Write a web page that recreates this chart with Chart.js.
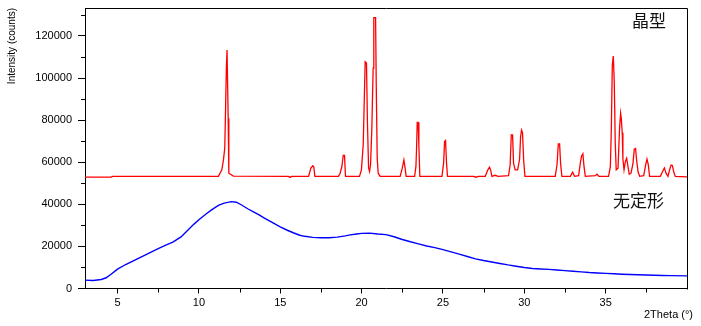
<!DOCTYPE html>
<html>
<head>
<meta charset="utf-8">
<script src="https://cdn.jsdelivr.net/npm/chart.js@4"></script>
<style>
    html, body { margin: 0; padding: 0; background: #fff; }
    #wrap { width: 701px; height: 326px; position: relative; }
</style>
</head>
<body>
<div id="wrap"><canvas id="xrd"></canvas></div>
<script>
// x axis: 2Theta (degrees), y axis: counts
const xTicks = [5, 10, 15, 20, 25, 30, 35];
const yTicks = [0, 20000, 40000, 60000, 80000, 100000, 120000];

// crystalline form (red), offset up the y axis in the original plot
const crystalTheta = [
    3.0, 4.6, 4.7, 11.2, 11.41, 11.51, 11.59, 11.63, 11.69, 11.73, 11.80, 11.84, 12.12,
    15.5, 15.6, 15.7, 16.74, 16.88, 17.0, 17.06, 17.13,
    18.58, 18.68, 18.79, 18.87, 18.95, 19.01,
    19.87, 19.99, 20.1, 20.16, 20.22, 20.3, 20.36, 20.43, 20.49, 20.55, 20.63, 20.71, 20.75, 20.86, 20.9, 20.96, 21.02, 21.14,
    22.37, 22.5, 22.6, 22.66, 22.74,
    23.26, 23.34, 23.38, 23.42, 23.48, 23.52, 23.58,
    24.94, 25.04, 25.1, 25.16, 25.22, 25.28,
    26.9, 27.0, 27.2, 27.6, 27.76, 27.86, 27.93, 28.01, 28.2, 28.4,
    29.03, 29.13, 29.2, 29.28, 29.34, 29.44, 29.59, 29.71, 29.77, 29.83, 29.89, 29.96, 30.04,
    31.9, 32.01, 32.09, 32.17, 32.23, 32.31,
    32.83, 32.97, 33.09,
    33.34, 33.44, 33.52, 33.6, 33.67, 33.75,
    34.36, 34.47, 34.59,
    35.18, 35.29, 35.35, 35.41, 35.47, 35.53, 35.59, 35.65, 35.76, 35.86, 35.92, 35.96, 36.02, 36.06,
    36.13, 36.21, 36.29, 36.37, 36.45, 36.56, 36.68, 36.76, 36.84, 36.9, 36.99, 37.09,
    37.34, 37.46, 37.54, 37.62, 37.7,
    38.36, 38.5, 38.61, 38.71, 38.83, 38.93, 39.02, 39.1, 39.18, 39.28, 40.0
];
const crystalCounts = [
    52900, 52900, 53300, 53300, 56400, 61100, 66700, 81700, 105400, 113300, 80900, 54800, 53400,
    53300, 52800, 53300, 53300, 57200, 58300, 57800, 53300,
    53300, 54800, 58000, 63200, 63200, 53300,
    53300, 56400, 68300, 88100, 107700, 107100, 78600, 57200, 55600, 58800, 76200, 104700, 128700, 128700, 96800, 61900, 54800, 53300,
    53300, 57200, 61100, 58000, 53300,
    53300, 58000, 67000, 78900, 78900, 68000, 53300,
    53300, 59600, 69800, 70300, 59600, 53300,
    53300, 52900, 53300, 53300, 56400, 57700, 56400, 53300, 53800, 53300,
    53600, 58700, 73000, 73000, 59500, 56400, 56400, 61400, 71900, 75300, 74100, 61100, 53300,
    53300, 58700, 68700, 68700, 59500, 53300,
    53300, 55300, 53300,
    53600, 59500, 63000, 64000, 58000, 53300,
    53600, 54300, 53300,
    53300, 58000, 76200, 106200, 110500, 98300, 69000, 56400, 57200, 76900, 83300, 80900, 74000, 61500,
    56400, 60300, 61900, 58000, 54300, 54800, 59500, 66200, 66500, 61200, 55600, 53300,
    53600, 58700, 61500, 58900, 53300,
    53300, 55600, 57300, 54800, 53300, 56400, 58700, 58500, 55600, 53300, 53000
];

// amorphous form (blue)
const amorphTheta = [
    3.0, 3.5, 4.0, 4.3, 4.6, 5.0, 5.5, 6.0, 6.5, 7.0, 7.5, 8.0, 8.4, 8.9, 9.3, 9.7, 10.0, 10.4, 10.8, 11.2,
    11.55, 12.0, 12.3, 12.6, 13.0, 13.3, 13.7, 14.0, 14.5, 15.0, 15.4, 15.8, 16.2, 16.5, 17.0, 17.5, 18.0,
    18.5, 19.0, 19.3, 19.7, 20.0, 20.5, 21.0, 21.5, 22.0, 22.5, 23.0, 23.5, 24.0, 24.5, 25.0, 25.5, 26.0,
    26.5, 27.0, 27.5, 28.0, 28.5, 29.0, 29.5, 30.0, 30.5, 31.0, 31.5, 32.0, 32.5, 33.0, 33.5, 34.0, 34.5,
    35.0, 35.5, 36.0, 36.5, 37.0, 37.5, 38.0, 38.5, 39.0, 40.0
];
const amorphCounts = [
    4000, 3800, 4300, 5100, 6800, 9200, 11400, 13300, 15200, 17100, 19000, 20700, 22000, 24500, 27600, 30600, 32700, 35200, 37500, 39500,
    40600, 41300, 41000, 39800, 37900, 36700, 35000, 33600, 31400, 29300, 27800, 26500, 25300, 24800, 24300, 24100, 24100,
    24400, 25000, 25500, 25900, 26200, 26300, 25900, 25600, 24600, 23300, 22200, 21200, 20200, 19400, 18500, 17400, 16300,
    15200, 14100, 13300, 12600, 11900, 11200, 10600, 10000, 9500, 9300, 9100, 8800, 8500, 8200, 7900, 7600, 7400,
    7200, 7000, 6800, 6650, 6500, 6400, 6300, 6200, 6100, 6000
];

const toPoints = (xs, ys) => xs.map((x, i) => ({ x: x, y: ys[i] }));

// box, minor ticks and the free text labels
const framePlugin = {
    id: 'frame',
    afterDraw(chart) {
        const ctx = chart.ctx;
        const a = chart.chartArea;
        const xs = chart.scales.x;
        const ys = chart.scales.y;
        ctx.save();
        ctx.strokeStyle = '#000';
        ctx.lineWidth = 1;
        ctx.beginPath();
        ctx.moveTo(Math.round(a.left) + 0.5, Math.round(a.top) + 0.5);
        ctx.lineTo(Math.round(a.right) + 0.5, Math.round(a.top) + 0.5);
        ctx.lineTo(Math.round(a.right) + 0.5, Math.round(a.bottom) + 0.5);
        // minor ticks
        for (let v = 7.5; v < 40; v += 5) {
            const px = Math.round(xs.getPixelForValue(v)) + 0.5;
            ctx.moveTo(px, a.bottom);
            ctx.lineTo(px, a.bottom + 4);
        }
        for (let v = 10000; v < 133000; v += 20000) {
            const py = Math.round(ys.getPixelForValue(v)) + 0.5;
            ctx.moveTo(a.left - 4, py);
            ctx.lineTo(a.left, py);
        }
        ctx.stroke();

        ctx.fillStyle = '#000';
        ctx.font = '10px "Liberation Sans", Arial, sans-serif';
        ctx.save();
        ctx.translate(12, 8);
        ctx.rotate(-Math.PI / 2);
        ctx.textAlign = 'right';
        ctx.textBaseline = 'middle';
        ctx.fillText('Intensity (counts)', 0, 0);
        ctx.restore();

        ctx.font = '11px "Liberation Sans", Arial, sans-serif';
        ctx.textAlign = 'left';
        ctx.textBaseline = 'middle';
        ctx.fillText('2Theta (°)', 644, 315);

        ctx.fillStyle = '#111';
        ctx.font = '17px "Noto Sans CJK SC", sans-serif';
        ctx.fillText('晶型', 632, 21);
        ctx.fillText('无定形', 613, 201);
        ctx.restore();
    }
};

new Chart(document.getElementById('xrd'), {
    type: 'line',
    data: {
        datasets: [
            {
                label: '晶型',
                data: toPoints(crystalTheta, crystalCounts),
                borderColor: '#ff0000',
                borderWidth: 1.3,
                pointRadius: 0,
                tension: 0
            },
            {
                label: '无定形',
                data: toPoints(amorphTheta, amorphCounts),
                borderColor: '#0000ff',
                borderWidth: 1.4,
                pointRadius: 0,
                tension: 0
            }
        ]
    },
    options: {
        responsive: true,
        maintainAspectRatio: false,
        animation: false,
        devicePixelRatio: 1,
        layout: { padding: { top: 8, right: 14, left: 0, bottom: 0 } },
        plugins: {
            legend: { display: false },
            tooltip: { enabled: false }
        },
        scales: {
            x: {
                type: 'linear',
                min: 3,
                max: 40,
                afterBuildTicks: s => { s.ticks = xTicks.map(v => ({ value: v })); },
                afterFit: s => { s.height = 37.5; s.paddingLeft = 0; s.paddingRight = 0; },
                grid: { drawOnChartArea: false, tickLength: 5, color: '#000' },
                border: { color: '#000', width: 1 },
                ticks: {
                    color: '#000',
                    padding: 3,
                    maxRotation: 0,
                    font: { family: '"Liberation Sans", Arial, sans-serif', size: 11 },
                    callback: v => String(v)
                }
            },
            y: {
                min: 0,
                max: 133300,
                afterBuildTicks: s => { s.ticks = yTicks.map(v => ({ value: v })); },
                afterFit: s => { s.width = 85; s.paddingTop = 0; s.paddingBottom = 0; },
                grid: { drawOnChartArea: false, tickLength: 7, color: '#000' },
                border: { color: '#000', width: 1 },
                ticks: {
                    color: '#000',
                    padding: 6,
                    font: { family: '"Liberation Sans", Arial, sans-serif', size: 11 },
                    callback: v => String(v)
                }
            }
        }
    },
    plugins: [framePlugin]
});
</script>
</body>
</html>
